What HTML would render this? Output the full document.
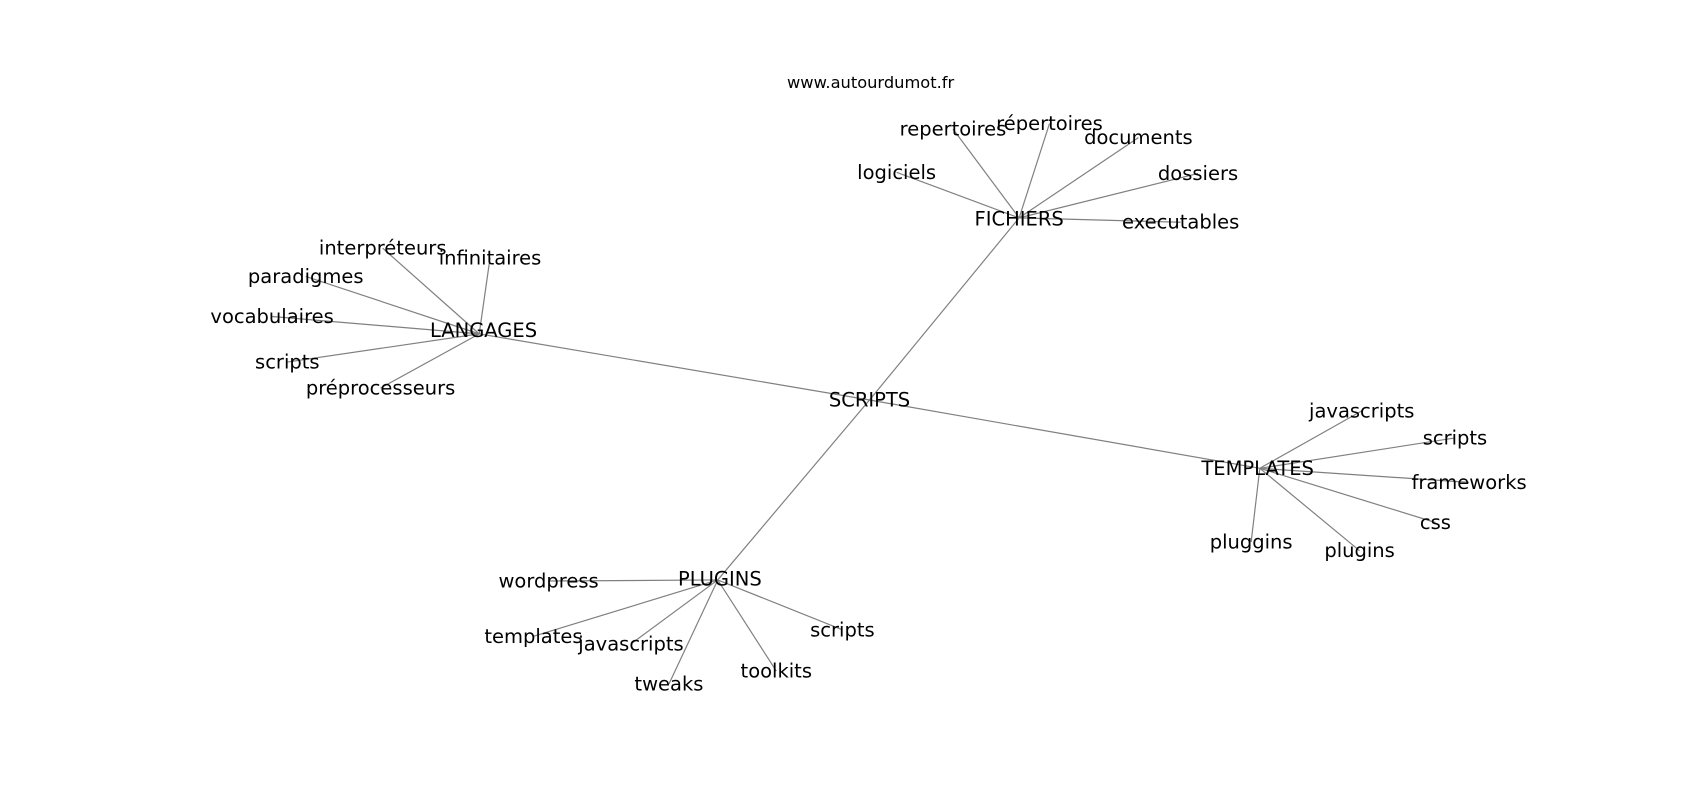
<!DOCTYPE html>
<html><head><meta charset="utf-8"><style>
html,body{margin:0;padding:0;background:#fff;}
svg text{font-family:"DejaVu Sans","Liberation Sans",sans-serif;font-size:18px;fill:#000;}
</style></head><body>
<svg width="1700" height="800" viewBox="0 0 1568 738" preserveAspectRatio="none" xmlns="http://www.w3.org/2000/svg">
<g stroke="#808080" stroke-width="1.1" fill="none">
<line x1="802" y1="369" x2="442" y2="308"/>
<line x1="802" y1="369" x2="940" y2="201"/>
<line x1="802" y1="369" x2="1162" y2="432"/>
<line x1="802" y1="369" x2="662" y2="535"/>
<line x1="442" y1="308" x2="353" y2="229"/>
<line x1="442" y1="308" x2="452" y2="238"/>
<line x1="442" y1="308" x2="282" y2="255"/>
<line x1="442" y1="308" x2="251" y2="292"/>
<line x1="442" y1="308" x2="265" y2="334"/>
<line x1="442" y1="308" x2="351" y2="358"/>
<line x1="940" y1="201" x2="879" y2="119"/>
<line x1="940" y1="201" x2="968" y2="114"/>
<line x1="940" y1="201" x2="1050" y2="127"/>
<line x1="940" y1="201" x2="1105" y2="160"/>
<line x1="940" y1="201" x2="827" y2="159"/>
<line x1="940" y1="201" x2="1089" y2="205"/>
<line x1="1162" y1="432" x2="1256" y2="379"/>
<line x1="1162" y1="432" x2="1342" y2="404"/>
<line x1="1162" y1="432" x2="1355" y2="445"/>
<line x1="1162" y1="432" x2="1324" y2="482"/>
<line x1="1162" y1="432" x2="1254" y2="508"/>
<line x1="1162" y1="432" x2="1154" y2="500"/>
<line x1="662" y1="535" x2="506" y2="536"/>
<line x1="662" y1="535" x2="492" y2="587"/>
<line x1="662" y1="535" x2="582" y2="594"/>
<line x1="662" y1="535" x2="617" y2="631"/>
<line x1="662" y1="535" x2="716" y2="619"/>
<line x1="662" y1="535" x2="777" y2="581"/>
</g>
<g text-anchor="middle" dominant-baseline="central">
<text x="802" y="369">SCRIPTS</text>
<text x="446" y="305">LANGAGES</text>
<text x="940" y="202">FICHIERS</text>
<text x="1160" y="432">TEMPLATES</text>
<text x="664" y="534">PLUGINS</text>
<text x="353" y="229">interpréteurs</text>
<text x="452" y="238">infinitaires</text>
<text x="282" y="255">paradigmes</text>
<text x="251" y="292">vocabulaires</text>
<text x="265" y="334">scripts</text>
<text x="351" y="358">préprocesseurs</text>
<text x="879" y="119">repertoires</text>
<text x="968" y="114">répertoires</text>
<text x="1050" y="127">documents</text>
<text x="1105" y="160">dossiers</text>
<text x="827" y="159">logiciels</text>
<text x="1089" y="205">executables</text>
<text x="1256" y="379">javascripts</text>
<text x="1342" y="404">scripts</text>
<text x="1355" y="445">frameworks</text>
<text x="1324" y="482">css</text>
<text x="1254" y="508">plugins</text>
<text x="1154" y="500">pluggins</text>
<text x="506" y="536">wordpress</text>
<text x="492" y="587">templates</text>
<text x="582" y="594">javascripts</text>
<text x="617" y="631">tweaks</text>
<text x="716" y="619">toolkits</text>
<text x="777" y="581">scripts</text>
<text x="803" y="76" style="font-size:15px">www.autourdumot.fr</text>
</g>
</svg>
</body></html>
